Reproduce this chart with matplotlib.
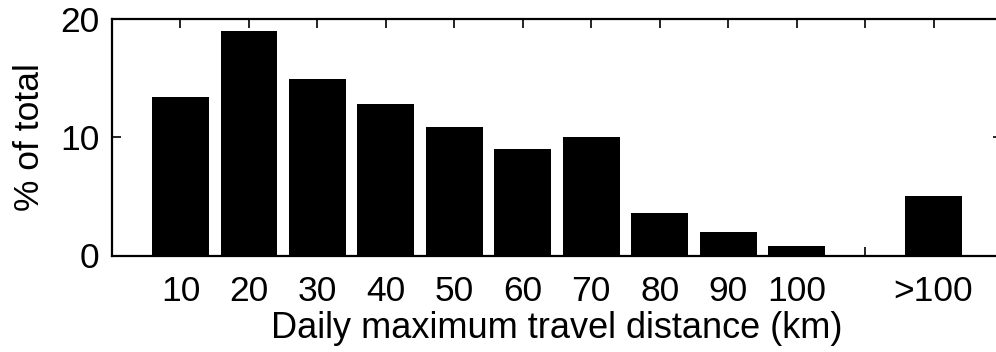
import matplotlib
matplotlib.use("Agg")
import matplotlib.pyplot as plt

plt.rcParams['font.family'] = ['Liberation Sans', 'DejaVu Sans']

categories = ["10", "20", "30", "40", "50", "60", "70", "80", "90", "100", "", ">100"]
percent_of_total = [13.4, 19.0, 14.9, 12.8, 10.9, 9.0, 10.0, 3.6, 1.95, 0.8, 0.08, 5.05]
y_ticks = [0, 10, 20]

fig = plt.figure(figsize=(9.96, 3.52), dpi=100)
ax = fig.add_axes([112 / 996, 1 - 255.5 / 352, 890 / 996, 236.5 / 352])

positions = list(range(1, len(categories) + 1))
ax.bar(positions, percent_of_total, width=0.83, color="black", edgecolor="none")

ax.set_xlim(0, 13)
ax.set_ylim(0, 20)
ax.set_xticks(positions)
ax.set_xticklabels(categories)
ax.set_yticks(y_ticks)

for side in ax.spines.values():
    side.set_linewidth(1.6)

ax.tick_params(axis="both", direction="in", length=6.5, width=1.2,
               labelsize=25.5, top=True, right=True)
ax.tick_params(axis="x", pad=14)
ax.tick_params(axis="y", pad=9)

ax.set_xlabel("Daily maximum travel distance (km)", fontsize=26, labelpad=2)
ax.set_ylabel("% of total", fontsize=25.5, labelpad=10)

fig.savefig("out.png", dpi=100)
